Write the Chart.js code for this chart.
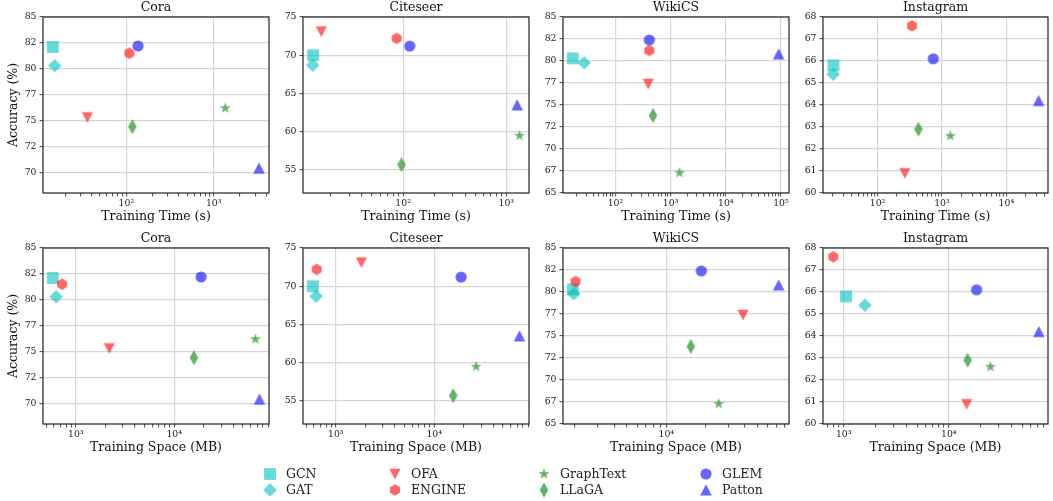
<!DOCTYPE html>
<html>
<head>
<meta charset="utf-8">
<script src="https://cdn.jsdelivr.net/npm/chart.js@4"></script>
<style>
  body { margin: 0; background: #fff; width: 1053px; height: 501px; overflow: hidden; position: relative; }
  canvas.panel { position: absolute; }
  .leg { position: absolute; font-family: 'DejaVu Serif', serif; font-size: 12.5px; color: #222; white-space: nowrap; }
  .leg canvas { position: absolute; }
</style>
</head>
<body>
<script>
// methods, in plotting order
const methods = ['GCN', 'GAT', 'OFA', 'ENGINE', 'GraphText', 'LLaGA', 'GLEM', 'Patton'];
const datasetNames = ['Cora', 'Citeseer', 'WikiCS', 'Instagram'];

// accuracy (%) per dataset
const coraAcc = [82.1, 80.3, 75.3, 81.5, 76.2, 74.4, 82.2, 70.4];
const citeseerAcc = [70.0, 68.7, 73.1, 72.2, 59.5, 55.7, 71.2, 63.5];
const wikicsAcc = [80.3, 79.8, 77.4, 81.2, 67.3, 73.8, 82.4, 80.8];
const instagramAcc = [65.8, 65.4, 60.9, 67.6, 62.6, 62.9, 66.1, 64.2];

// training time (s)
const coraTime = [14.4, 15.1, 35.8, 108, 1355, 117, 136, 3300];
const citeseerTime = [13.4, 13.3, 16.1, 86.4, 1341, 96.4, 116, 1274];
const wikicsTime = [16.8, 27.1, 394, 410, 1450, 480, 410, 91000];
const instagramTime = [20.6, 20.4, 265, 342, 1350, 431, 734, 31700];

// training space (MB)
const coraSpace = [583, 631, 2190, 724, 67000, 15850, 18750, 73500];
const citeseerSpace = [584, 631, 1820, 640, 26700, 15600, 18750, 73500];
const wikicsSpace = [1930, 1960, 38700, 2020, 25200, 15400, 18550, 72500];
const instagramSpace = [1052, 1593, 14800, 796, 24900, 15100, 18400, 72000];

// y ticks (labels are truncated to integers, as in the original)
const coraYTicks = [70, 72.5, 75, 77.5, 80, 82.5, 85];
const citeseerYTicks = [55, 60, 65, 70, 75];
const wikicsYTicks = [65, 67.5, 70, 72.5, 75, 77.5, 80, 82.5, 85];
const instagramYTicks = [60, 61, 62, 63, 64, 65, 66, 67, 68];

// axis limits
const yLimits = [[68, 85], [52, 75], [65, 85], [60, 68]];
const timeLimits = [[11.1, 4300], [10.7, 1660], [11.2, 140000], [14.2, 44400]];
const spaceLimits = [[464, 91900], [464, 91900], [1620, 87000], [635, 88000]];

const FONT = "'DejaVu Serif', serif";
const markerShapes = ['square', 'diamond', 'triDown', 'hexagon', 'star', 'thinDiamond', 'circle', 'triUp'];
const markerColors = [
  'rgba(0,191,191,0.6)', 'rgba(0,191,191,0.6)',
  'rgba(255,0,0,0.6)', 'rgba(255,0,0,0.6)',
  'rgba(0,128,0,0.6)', 'rgba(0,128,0,0.6)',
  'rgba(0,0,255,0.6)', 'rgba(0,0,255,0.6)'
];

function makeMarker(shape, color) {
  const S = 18;
  const c = document.createElement('canvas');
  c.width = S; c.height = S;
  const g = c.getContext('2d');
  g.translate(S / 2, S / 2);
  g.fillStyle = color;
  g.beginPath();
  const poly = pts => {
    g.moveTo(pts[0][0], pts[0][1]);
    pts.slice(1).forEach(p => g.lineTo(p[0], p[1]));
    g.closePath();
  };
  if (shape === 'square') g.rect(-5.9, -5.9, 11.8, 11.8);
  else if (shape === 'diamond') poly([[0, -6.8], [6.8, 0], [0, 6.8], [-6.8, 0]]);
  else if (shape === 'thinDiamond') poly([[0, -7.5], [4.3, 0], [0, 7.5], [-4.3, 0]]);
  else if (shape === 'triDown') poly([[-5.6, -5.3], [5.6, -5.3], [0, 5.6]]);
  else if (shape === 'triUp') poly([[0, -5.8], [5.8, 5.6], [-5.8, 5.6]]);
  else if (shape === 'circle') g.arc(0, 0, 5.6, 0, Math.PI * 2);
  else if (shape === 'hexagon') {
    const pts = [];
    for (let k = 0; k < 6; k++) {
      const a = Math.PI / 2 + k * Math.PI / 3;
      pts.push([5.7 * Math.cos(a), -5.7 * Math.sin(a)]);
    }
    poly(pts);
  } else if (shape === 'star') {
    const pts = [];
    for (let k = 0; k < 10; k++) {
      const r = k % 2 === 0 ? 5.8 : 2.3;
      const a = Math.PI / 2 + k * Math.PI / 5;
      pts.push([r * Math.cos(a), -r * Math.sin(a)]);
    }
    poly(pts);
  }
  g.fill();
  return c;
}

const sup = { '0': '⁰', '1': '¹', '2': '²', '3': '³', '4': '⁴', '5': '⁵', '6': '⁶' };
function isDecade(v) {
  const l = Math.log10(v);
  return Math.abs(l - Math.round(l)) < 1e-9;
}
function logTicks(min, max) {
  const out = [];
  for (let e = Math.floor(Math.log10(min)); e <= Math.ceil(Math.log10(max)); e++) {
    for (let m = 1; m <= 9; m++) {
      const v = m * Math.pow(10, e);
      if (v >= min && v <= max) out.push({ value: v, major: m === 1 });
    }
  }
  return out;
}

const framePlugin = {
  id: 'frame',
  afterDraw(chart) {
    const { ctx, chartArea: a } = chart;
    ctx.save();
    ctx.strokeStyle = '#222';
    ctx.lineWidth = 1.2;
    ctx.strokeRect(a.left, a.top, a.right - a.left, a.bottom - a.top);
    ctx.restore();
  }
};

const plotLefts = [43, 303, 563, 823];
const plotWidths = [230, 230, 230, 229];
const rowTops = [0, 231];

function buildPanel(col, row, acc, xs, xLim, yTicks, xTitle) {
  const canvas = document.createElement('canvas');
  canvas.className = 'panel';
  canvas.width = 43 + plotWidths[col] + 3;
  canvas.height = 227;
  canvas.style.left = (plotLefts[col] - 43) + 'px';
  canvas.style.top = rowTops[row] + 'px';
  document.body.appendChild(canvas);

  new Chart(canvas, {
    type: 'scatter',
    data: {
      datasets: methods.map((m, i) => ({
        label: m,
        data: [{ x: xs[i], y: acc[i] }],
        pointStyle: makeMarker(markerShapes[i], markerColors[i]),
        pointRadius: 6,
        pointHoverRadius: 6,
        order: methods.length - i
      }))
    },
    options: {
      responsive: false,
      animation: false,
      events: [],
      layout: { padding: { left: 0, right: 3, top: 0, bottom: 0 } },
      plugins: {
        legend: { display: false },
        tooltip: { enabled: false },
        title: {
          display: true,
          text: datasetNames[col],
          fullSize: false,
          color: '#111',
          font: { family: FONT, size: 12.5, weight: 'normal' },
          padding: { top: 0, bottom: 2 }
        }
      },
      scales: {
        x: {
          type: 'logarithmic',
          min: xLim[0],
          max: xLim[1],
          afterBuildTicks: s => { s.ticks = logTicks(s.min, s.max); },
          afterFit: s => { s.height = 34; s.paddingLeft = 0; s.paddingRight = 0; },
          ticks: {
            autoSkip: false,
            maxRotation: 0,
            padding: 2,
            color: '#222',
            font: { family: FONT, size: 9.3 },
            callback: v => isDecade(v) ? '10' + String(Math.round(Math.log10(v))).split('').map(d => sup[d]).join('') : ''
          },
          grid: {
            color: c => (c.tick && isDecade(c.tick.value)) ? '#d6d6d6' : 'rgba(0,0,0,0)',
            lineWidth: 1.2,
            tickLength: 3.5,
            tickColor: '#333',
            tickWidth: 0.9
          },
          border: { display: false },
          title: {
            display: true,
            text: xTitle,
            color: '#111',
            font: { family: FONT, size: 12.5 },
            padding: { top: 0, bottom: 2.5 }
          }
        },
        y: {
          min: yLimits[col][0],
          max: yLimits[col][1],
          afterBuildTicks: s => { s.ticks = yTicks.map(v => ({ value: v })); },
          afterFit: s => { s.width = 43; s.paddingTop = 0; s.paddingBottom = 0; },
          ticks: {
            padding: 3,
            color: '#222',
            font: { family: FONT, size: 9.3 },
            callback: v => String(Math.floor(v))
          },
          grid: {
            color: '#d6d6d6',
            lineWidth: 1.2,
            tickLength: 3.5,
            tickColor: '#333',
            tickWidth: 0.9
          },
          border: { display: false },
          title: {
            display: col === 0,
            text: 'Accuracy (%)',
            color: '#111',
            font: { family: FONT, size: 12.5 },
            padding: { top: 6, bottom: 0 }
          }
        }
      }
    },
    plugins: [framePlugin]
  });
}

const accs = [coraAcc, citeseerAcc, wikicsAcc, instagramAcc];
const times = [coraTime, citeseerTime, wikicsTime, instagramTime];
const spaces = [coraSpace, citeseerSpace, wikicsSpace, instagramSpace];
const yTickSets = [coraYTicks, citeseerYTicks, wikicsYTicks, instagramYTicks];

for (let c = 0; c < 4; c++) {
  buildPanel(c, 0, accs[c], times[c], timeLimits[c], yTickSets[c], 'Training Time (s)');
  buildPanel(c, 1, accs[c], spaces[c], spaceLimits[c], yTickSets[c], 'Training Space (MB)');
}

// legend: 4 columns x 2 rows
const legendX = [270, 395, 544, 706];
const legendY = [474, 490];
methods.forEach((m, i) => {
  const col = Math.floor(i / 2), row = i % 2;
  const item = document.createElement('div');
  item.className = 'leg';
  item.style.left = (legendX[col] + 16) + 'px';
  item.style.top = (legendY[row] - 8) + 'px';
  item.style.lineHeight = '16px';
  const mk = makeMarker(markerShapes[i], markerColors[i]);
  mk.style.left = '-25px';
  mk.style.top = '-1px';
  item.appendChild(mk);
  item.appendChild(document.createTextNode(m));
  document.body.appendChild(item);
});
</script>
</body>
</html>
